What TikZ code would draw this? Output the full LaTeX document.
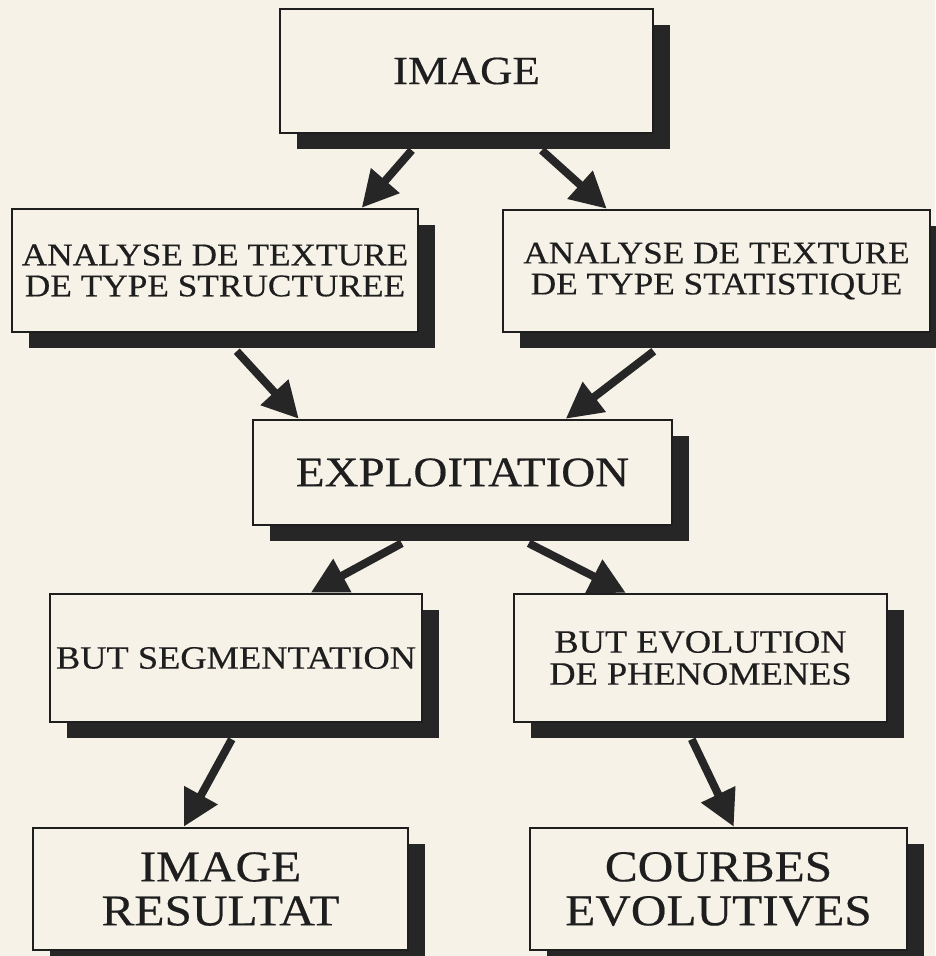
\documentclass[tikz,border=0pt]{standalone}
\usepackage{fontspec}
\setmainfont{Liberation Serif}[FakeStretch=1.12, FakeBold=0.4]
\usetikzlibrary{arrows.meta,calc,shadows}
\definecolor{paper}{HTML}{F6F2E8}
\definecolor{ink}{HTML}{1E1E1E}
\definecolor{shade}{HTML}{262626}
\tikzset{
  box/.style={draw=ink, line width=2.5pt, fill=paper, align=center, inner sep=0pt,
    text=ink,
    drop shadow={shadow xshift=17pt, shadow yshift=-16pt, fill=shade, opacity=1}},
  flow/.style={draw=shade, line width=8pt,
    -{Triangle[length=36pt, width=36pt]}}
}
\begin{document}
\begin{tikzpicture}[x=1pt, y=-1pt]
\fill[paper] (0,0) rectangle (935,956);
\useasboundingbox (0,0) rectangle (935,956);

\node[box, minimum width=373pt, minimum height=124pt,
  font=\fontsize{40}{40}\selectfont] (img) at (466.5,71) {IMAGE};
\node[box, minimum width=406pt, minimum height=123pt,
  font=\fontsize{31.5}{31}\selectfont] (anl) at (215,270.5)
  {ANALYSE DE TEXTURE\\DE TYPE STRUCTUREE};
\node[box, minimum width=427pt, minimum height=122pt,
  font=\fontsize{31.5}{31}\selectfont] (ans) at (716.5,271)
  {ANALYSE DE TEXTURE\\DE TYPE STATISTIQUE};
\node[box, minimum width=419pt, minimum height=105pt,
  font=\fontsize{42}{42}\selectfont] (exp) at (462.5,472.5) {EXPLOITATION};
\node[box, minimum width=372pt, minimum height=128pt,
  font=\fontsize{32.5}{32}\selectfont] (bseg) at (236,658) {BUT SEGMENTATION};
\node[box, minimum width=373pt, minimum height=128pt,
  font=\fontsize{32.5}{32}\selectfont] (bevo) at (700.5,658)
  {BUT EVOLUTION\\DE PHENOMENES};
\node[box, minimum width=375pt, minimum height=122pt,
  font=\fontsize{44}{44}\selectfont] (ires) at (220.5,889) {IMAGE\\RESULTAT};
\node[box, minimum width=377pt, minimum height=122pt,
  font=\fontsize{44}{44}\selectfont] (cour) at (718.5,889) {COURBES\\EVOLUTIVES};

\coordinate (s1) at ($(img.south west)+(133,16)$);
\coordinate (t1) at ($(anl.north west)+(351,0)$);
\coordinate (s2) at ($(img.south west)+(263,16)$);
\coordinate (t2) at ($(ans.north west)+(105,0)$);
\coordinate (s3) at ($(anl.south west)+(226,18)$);
\coordinate (t3) at ($(exp.north west)+(47,0)$);
\coordinate (s4) at ($(ans.south west)+(152,18)$);
\coordinate (t4) at ($(exp.north west)+(314,0)$);
\coordinate (s5) at ($(exp.south west)+(150,17)$);
\coordinate (t5) at ($(bseg.north west)+(262,0)$);
\coordinate (s6) at ($(exp.south west)+(277,17)$);
\coordinate (t6) at ($(bevo.north west)+(113,0)$);
\coordinate (s7) at ($(bseg.south west)+(183,16)$);
\coordinate (t7) at ($(ires.north west)+(152,0)$);
\coordinate (s8) at ($(bevo.south west)+(179,16)$);
\coordinate (t8) at ($(cour.north west)+(205,0)$);

\foreach \i in {1,...,8} {\draw[flow] (s\i) -- (t\i);}
\end{tikzpicture}
\end{document}
